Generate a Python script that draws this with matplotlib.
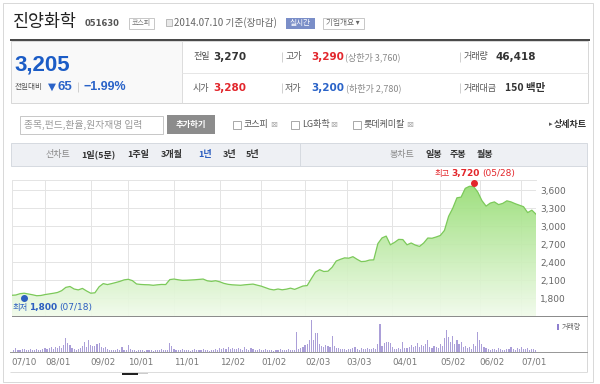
import numpy as np
import matplotlib
matplotlib.use('Agg')
import matplotlib.pyplot as plt
from matplotlib.colors import LinearSegmentedColormap
from matplotlib.patches import Rectangle, PathPatch

KR = ['Noto Sans CJK KR', 'DejaVu Sans']
NUM = ['DejaVu Sans']
ARIAL = ['Liberation Sans']

# closing price, one value every 2 trading days (2013-07-10 .. 2014-07-10)
price = [1853, 1858, 1880, 1888, 1875, 1862, 1846, 1850, 1865, 1876,
         1887, 1900, 1930, 1985, 2000, 1958, 1943, 1968, 1925, 1888,
         1895, 1995, 2048, 2032, 2048, 2066, 2085, 2110, 2120, 2098,
         2042, 2034, 2030, 2028, 2020, 2028, 2034, 2032, 2115, 2124,
         2112, 2102, 2104, 2108, 2112, 2118, 2124, 2095, 2085, 2096,
         2078, 2052, 2036, 2028, 2024, 2020, 2028, 2034, 2040, 2022,
         2005, 1980, 1955, 1943, 1958, 1945, 1955, 1972, 1952, 1980,
         2008, 2015, 2130, 2240, 2280, 2250, 2255, 2320, 2425, 2453,
         2477, 2472, 2497, 2453, 2415, 2420, 2441, 2444, 2715, 2810,
         2840, 2695, 2735, 2785, 2782, 2695, 2725, 2690, 2668, 2724,
         2808, 2804, 2825, 2850, 2935, 3170, 3305, 3478, 3490, 3636,
         3670, 3665, 3575, 3432, 3340, 3390, 3410, 3365, 3385, 3428,
         3410, 3380, 3355, 3330, 3232, 3272, 3205]
price_step = 2

# daily volume (thousand shares)
volume = [60, 40, 80, 50, 40, 60, 70, 40, 50, 60,
          40, 50, 60, 40, 50, 70, 90, 60, 80, 100,
          70, 110, 90, 120, 80, 150, 280, 180, 140, 90,
          60, 50, 70, 90, 120, 200, 110, 240, 150, 130,
          120, 160, 180, 110, 90, 100, 60, 50, 40, 50,
          40, 60, 50, 110, 50, 40, 140, 60, 50, 40,
          30, 40, 50, 40, 30, 40, 50, 40, 30, 40,
          50, 40, 60, 50, 40, 50, 180, 120, 60, 50,
          40, 50, 60, 40, 50, 40, 30, 50, 60, 40,
          50, 40, 60, 50, 40, 30, 50, 40, 60, 50,
          80, 60, 90, 70, 100, 60, 80, 70, 60, 90,
          60, 50, 100, 60, 50, 80, 60, 50, 40, 60,
          50, 40, 60, 50, 40, 50, 30, 40, 50, 60,
          40, 50, 40, 60, 50, 40, 50, 400, 60, 80,
          100, 140, 160, 240, 640, 240, 380, 380, 160, 120,
          100, 140, 120, 100, 320, 120, 90, 80, 60, 70,
          60, 50, 70, 60, 80, 100, 60, 50, 90, 70,
          60, 80, 70, 60, 80, 60, 160, 560, 120, 180,
          200, 200, 180, 100, 70, 60, 80, 70, 200, 90,
          80, 110, 140, 100, 120, 180, 110, 140, 120, 160,
          240, 110, 90, 120, 100, 80, 160, 120, 280, 440,
          300, 200, 320, 160, 240, 160, 200, 100, 120, 80,
          100, 60, 160, 120, 400, 240, 160, 100, 80, 60,
          50, 70, 60, 50, 80, 60, 50, 40, 60, 70,
          100, 60, 50, 80, 60, 100, 70, 60, 80, 50,
          60, 70, 46]

tick_idx = [0, 16, 38, 56, 78, 100, 120, 141, 161, 183, 206, 225, 245]
tick_lab = ['07/10', '08/01', '09/02', '10/01', '11/01', '12/02', '01/02',
            '02/03', '03/03', '04/01', '05/02', '06/02', '07/01']
price_ticks = [1800, 2100, 2400, 2700, 3000, 3300, 3600]
hi_idx, hi_val, hi_date = 222, 3720, '05/28'
lo_idx, lo_val, lo_date = 6, 1800, '07/18'

fig = plt.figure(figsize=(6, 3.84), dpi=100)
fig.patch.set_facecolor('white')
bg = fig.add_axes([0, 0, 1, 1])
bg.set_xlim(0, 600)
bg.set_ylim(384, 0)
bg.axis('off')
r = fig.canvas.get_renderer()
PX = 0.72  # 1 px in points


def box(x0, y0, x1, y1, fc='none', ec='none', lw=1, ax=bg, z=1):
    ax.add_patch(Rectangle((x0, y0), x1 - x0, y1 - y0, facecolor=fc,
                           edgecolor=ec, linewidth=lw * PX, zorder=z))


def hline(y, x0, x1, c, lw=1, ax=bg):
    ax.plot([x0, x1], [y, y], color=c, lw=lw * PX, solid_capstyle='butt')


def vline(x, y0, y1, c, lw=1, ax=bg):
    ax.plot([x, x], [y0, y1], color=c, lw=lw * PX, solid_capstyle='butt')


def txt(x, y, s, size, color, fam=KR, weight='normal', ha='left', ax=bg):
    return ax.text(x, y, s, fontsize=size, color=color, family=fam,
                   fontweight=weight, ha=ha, va='center')


def chain(x, y, parts, ax=bg, gap=2):
    for s, size, color, fam, weight in parts:
        t = txt(x, y, s, size, color, fam, weight, ax=ax)
        x += t.get_window_extent(r).width + gap
    return x


# outer frame
box(2.5, 2.5, 592.5, 381.5, ec='#d9d9d9')

# header
txt(13, 21.5, '진양화학', 12.5, '#222222')
txt(85, 23, '051630', 6, '#555555', NUM, 'bold')
box(128.5, 17.5, 153.5, 28.5, fc='white', ec='#c8c8c8')
txt(141, 23, '코스피', 5, '#777777', ha='center')
box(166, 19, 172, 26, fc='#e8e8e8', ec='#bbbbbb')
txt(174, 23, '2014.07.10 기준(장마감)', 7, '#666666')
box(286, 17.5, 315, 28.5, fc='#7a8ec8')
txt(300.5, 23, '실시간', 5.5, 'white', ha='center')
box(322.5, 17.5, 363.5, 28.5, fc='white', ec='#c8c8c8')
txt(343, 23, '기업개요 ▾', 5.5, '#666666', ha='center')
hline(39.5, 10, 590, '#4a4a4a', lw=2)

# price info panel
box(10.5, 40.5, 182, 103, fc='#f9f9f9')
box(10.5, 40.5, 588, 103, ec='#d8d8d8')
vline(182, 40.5, 103, '#dddddd')
hline(72.5, 182, 588, '#e6e6e6')
txt(14, 64.5, '3,205', 16, '#1b5cc6', ARIAL, 'bold')
txt(15, 87, '전일대비', 5.5, '#555555')
txt(48, 87, '▼', 7.5, '#2a63c8', NUM)
txt(58, 87, '65', 9.5, '#2a63c8', ARIAL, 'bold')
vline(78, 82, 92, '#d0d0d0')
txt(84, 87, '−1.99%', 9, '#2a63c8', ARIAL, 'bold')

rows = [(57, [('전일', '3,270', '#333333'), ('고가', '3,290', '#e2262c'),
              ('거래량', '46,418', '#333333')], '(상한가 3,760)'),
        (88, [('시가', '3,280', '#e2262c'), ('저가', '3,200', '#2a63c8'),
              ('거래대금', '150 백만', '#333333')], '(하한가 2,780)')]
for y, items, limit in rows:
    (l1, v1, c1), (l2, v2, c2), (l3, v3, c3) = items
    txt(193, y, l1, 6.5, '#555555')
    txt(213, y, v1, 7.5, c1, NUM, 'bold')
    vline(281.5, y - 5, y + 5, '#d0d0d0')
    txt(285, y, l2, 6.5, '#555555')
    chain(311, y, [(v2, 7.5, c2, NUM, 'bold'), (limit, 6.5, '#888888', KR, 'normal')], gap=1.5)
    vline(459.5, y - 5, y + 5, '#d0d0d0')
    txt(464, y, l3, 6.5, '#555555')
    txt(495 if l3 == '거래량' else 505, y, v3, 7.5, c3, KR if '백만' in v3 else NUM, 'bold')

# search / compare bar
box(19.5, 115.5, 163, 133.5, fc='white', ec='#c8c8c8')
txt(24, 124.5, '종목,펀드,환율,원자재명 입력', 7, '#9a9a9a')
box(167, 115, 215, 134, fc='#8c8c8c')
txt(191, 124.5, '추가하기', 6, 'white', weight='bold', ha='center')
for xs, name in [(232, '코스피'), (290, 'LG화학'), (352, '롯데케미칼')]:
    box(xs + 0.5, 120.5, xs + 8.5, 128.5, fc='white', ec='#aaaaaa')
    chain(xs + 12, 124.5, [(name, 6.5, '#555555', KR, 'normal'),
                           ('⊠', 6, '#aaaaaa', NUM, 'normal')], gap=1)
txt(549, 124.5, '▸', 5, '#555555', NUM)
txt(554, 124.5, '상세차트', 6.5, '#333333', weight='bold')

# tab bar
box(10.5, 142.5, 587, 165.5, fc='#eef0f4', ec='#d6dae0')
vline(299.5, 142.5, 165.5, '#d6dae0')
txt(46, 154, '선차트', 6.5, '#888888')
for name, xx in [('1일(5분)', 81), ('1주일', 127), ('3개월', 161), ('1년', 198),
                 ('3년', 223), ('5년', 246)]:
    txt(xx, 154, name, 6.5, '#2a5cbf' if name == '1년' else '#333333', weight='bold')
txt(390, 154, '봉차트', 6.5, '#888888')
for name, xx in [('일봉', 426), ('주봉', 450), ('월봉', 477)]:
    txt(xx, 154, name, 6.5, '#333333', weight='bold')

# chart container
vline(587, 166, 372, '#d8d8d8')
hline(371.5, 10, 587, '#dddddd')
box(122, 372, 138, 375, fc='#222222')
box(138, 372, 148, 374, fc='#cccccc')

# price pane
N = len(volume) - 1
xp = np.arange(len(price)) * price_step
ymin, ymax = 1508, 3775
ax = fig.add_axes([11.7 / 600, (384 - 316) / 384, (536 - 11.7) / 600, 136 / 384])
ax.patch.set_alpha(0)
ax.set_xticks(tick_idx)
ax.set_yticks(price_ticks)
ax.grid(True, color='#e4e4e4', lw=PX, zorder=0)
ax.set_axisbelow(True)
poly = ax.fill_between(xp, price, ymin, facecolor='none', edgecolor='none')
cmap = LinearSegmentedColormap.from_list('g', ['#f1fbeb', '#93dc6f'])
grad = ax.imshow(np.linspace(0, 1, 256).reshape(-1, 1), cmap=cmap, origin='lower',
                 extent=[0, N, ymin, ymax], aspect='auto', alpha=0.92, zorder=1)
clip = PathPatch(poly.get_paths()[0], transform=ax.transData, facecolor='none', edgecolor='none')
ax.add_patch(clip)
grad.set_clip_path(clip)
ax.plot(xp, price, color='#7cc95a', lw=0.9, zorder=3)
ax.set_xlim(0, N)
ax.set_ylim(ymin, ymax)
for s in ['left', 'right', 'bottom']:
    ax.spines[s].set_visible(False)
ax.spines['top'].set_color('#e4e4e4')
ax.spines['top'].set_linewidth(PX)
ax.yaxis.tick_right()
ax.set_yticklabels([f'{v:,}' for v in price_ticks])
ax.tick_params(axis='y', length=0, pad=3, labelsize=6.5, labelcolor='#666666')
ax.tick_params(axis='x', length=0, labelbottom=False)
ax.plot([0, (587 - 11.7) / 524.3], [0, 0], transform=ax.transAxes, clip_on=False,
        color='#8c8c8c', lw=PX, zorder=4)

# high / low markers
ax.plot([hi_idx], [hi_val], 'o', color='#e3262b', ms=4, clip_on=False, zorder=5)
ax.plot([lo_idx], [lo_val], 'o', color='#2d5fc0', ms=4, clip_on=False, zorder=5)

# overlay for annotations above the chart
top = fig.add_axes([0, 0, 1, 1], zorder=10)
top.set_xlim(0, 600)
top.set_ylim(384, 0)
top.axis('off')
top.patch.set_alpha(0)
hx, hy = ax.transData.transform((hi_idx, hi_val))
chain(hx - 39, 384 - hy - 9.5, [('최고', 6, '#e3262b', KR, 'normal'),
                                (f'{hi_val:,}', 6.5, '#e3262b', NUM, 'bold'),
                                (f'({hi_date})', 6.5, '#e3262b', NUM, 'normal')], ax=top)
lx, ly = ax.transData.transform((lo_idx, lo_val))
chain(lx - 12, 384 - ly + 9, [('최저', 6, '#2d5fc0', KR, 'normal'),
                              (f'{lo_val:,}', 6.5, '#2d5fc0', NUM, 'bold'),
                              (f'({lo_date})', 6.5, '#2d5fc0', NUM, 'normal')], ax=top)

# volume pane
av = fig.add_axes([11.7 / 600, (384 - 352) / 384, (536 - 11.7) / 600, 34 / 384])
av.patch.set_alpha(0)
av.bar(np.arange(len(volume)), volume, width=0.55, color='#ab9fd8', linewidth=0)
av.set_xlim(0, N)
av.set_ylim(0, max(volume) * 34 / 32)
for s in av.spines.values():
    s.set_visible(False)
av.set_yticks([])
av.set_xticks(tick_idx)
av.set_xticklabels(tick_lab, ha='left')
av.tick_params(axis='x', length=0, pad=4, labelsize=6.3, labelcolor='#777777')
av.plot([-(11.7 - 10) / 524.3, (587 - 11.7) / 524.3], [0, 0], transform=av.transAxes,
        clip_on=False, color='#999999', lw=PX)
box(557, 323.5, 559, 330, fc='#8e7fcf')
txt(561.5, 326.7, '거래량', 5, '#666666')

fig.savefig('out.png', dpi=100, facecolor='white')
